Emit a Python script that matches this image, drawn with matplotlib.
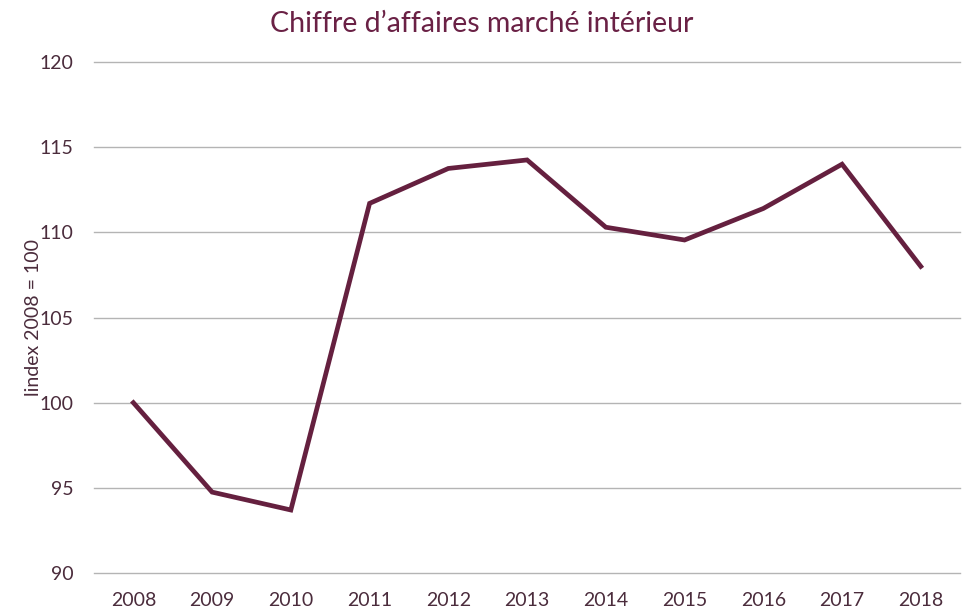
import matplotlib
matplotlib.use("Agg")
import matplotlib.pyplot as plt

years = ["2008", "2009", "2010", "2011", "2012", "2013", "2014", "2015", "2016", "2017", "2018"]
index_values = [100, 94.75, 93.7, 111.7, 113.75, 114.25, 110.3, 109.55, 111.4, 114.0, 108.0]
y_ticks = [90, 95, 100, 105, 110, 115, 120]

plt.rcParams['font.family'] = ['Lato', 'DejaVu Sans']

fig = plt.figure(figsize=(9.64, 6.12), dpi=100)
ax = fig.add_axes([0.0975, 0.0637, 0.8985, 0.835])

x = list(range(len(years)))
ax.plot(x, index_values, color="#65203F", linewidth=3.4, solid_joinstyle="miter", zorder=3)

ax.set_xlim(-0.5, len(years) - 0.5)
ax.set_ylim(90, 120)
ax.set_yticks(y_ticks)
ax.set_yticklabels([str(t) for t in y_ticks])
ax.set_xticks(x)
ax.set_xticklabels(years)
ax.yaxis.grid(True, color="#b4b4b4", linewidth=1.0)
for gl in ax.yaxis.get_gridlines():
    gl.set_clip_on(False)
ax.set_axisbelow(True)
for s in ax.spines.values():
    s.set_visible(False)
ax.tick_params(axis="both", length=0, labelsize=14, labelcolor="#4B2C3C")
ax.tick_params(axis="y", pad=15)
ax.tick_params(axis="x", pad=14)
ax.set_ylabel("lindex 2008 = 100", fontsize=14, color="#4B2C3C")
ax.yaxis.set_label_coords(-0.060, 0.5)
fig.text(0.5, 0.960, "Chiffre d\u2019affaires marché intérieur", ha="center", va="center",
         fontsize=20.5, color="#6A2145")

fig.savefig("out.png", dpi=100)
